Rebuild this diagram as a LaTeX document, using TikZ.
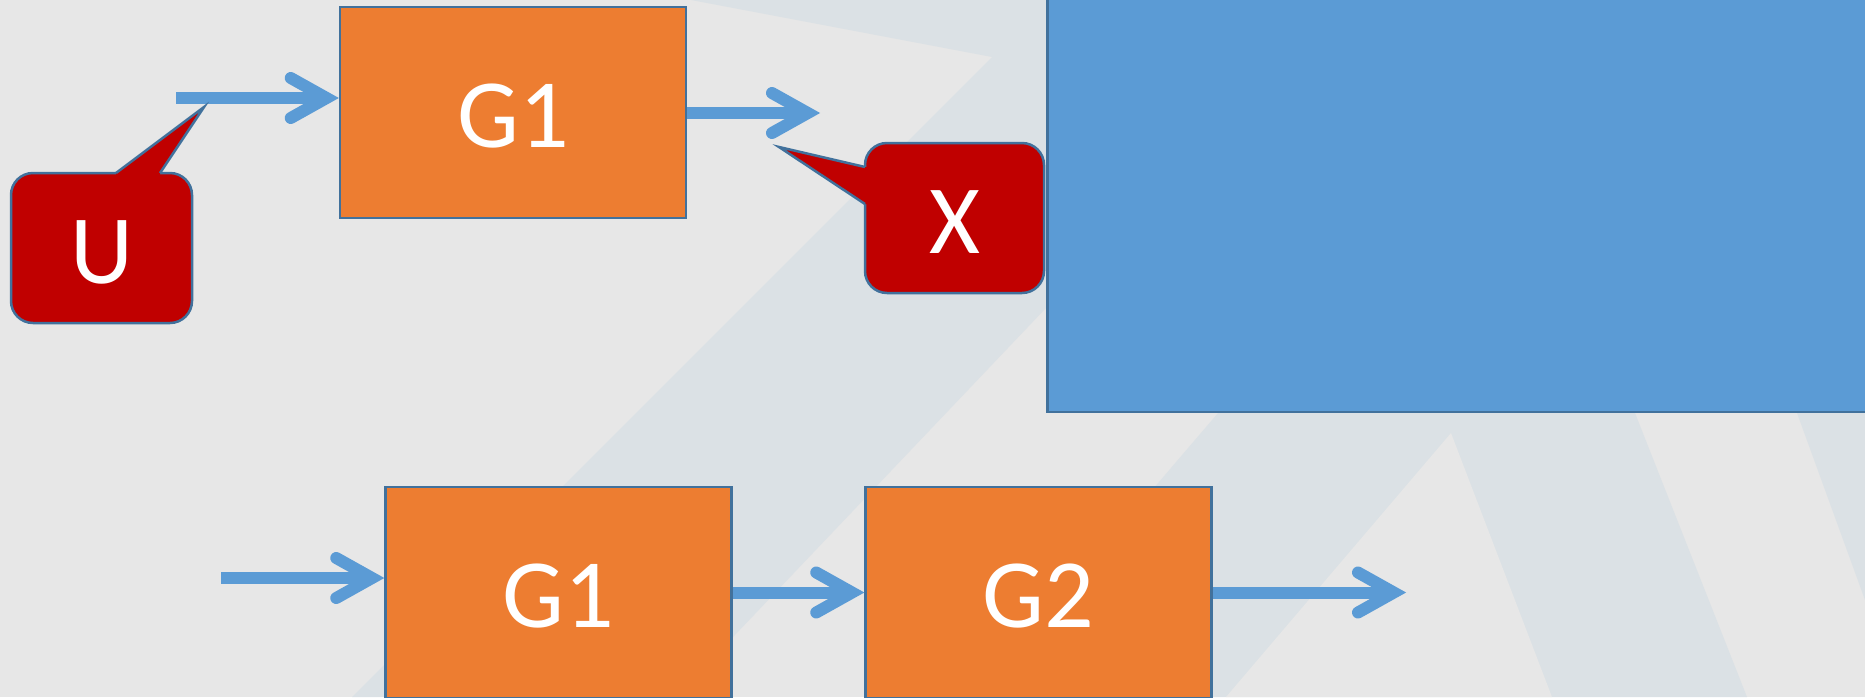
\documentclass[tikz,border=0pt]{standalone}
\usepackage{fontspec}
\setmainfont{Carlito}
\definecolor{bgbase}{HTML}{E7E7E7}
\definecolor{bgband}{HTML}{DBE1E5}
\definecolor{blockorange}{HTML}{ED7D31}
\definecolor{panelblue}{HTML}{5B9BD5}
\definecolor{edgeblue}{HTML}{41719C}
\definecolor{calloutred}{HTML}{C00000}
\definecolor{arrowblue}{HTML}{5B9BD5}
% open chevron head: thick barbs with round ends, pointed tip
\pgfdeclarearrow{
  name = Chevron,
  parameters = {chevron},
  setup code = {
    \pgfarrowssettipend{0pt}
    \pgfarrowssetlineend{-16pt}
    \pgfarrowssetvisualbackend{-54pt}
    \pgfarrowssetbackend{-54pt}
    \pgfarrowshullpoint{0pt}{0pt}
    \pgfarrowsupperhullpoint{-54pt}{26pt}
  },
  drawing code = {
    \pgfsetlinewidth{12pt}
    \pgfsetroundcap
    \pgfsetmiterjoin
    \pgfpathmoveto{\pgfqpoint{-48pt}{20pt}}
    \pgfpathlineto{\pgfqpoint{-12.2pt}{0pt}}
    \pgfpathlineto{\pgfqpoint{-48pt}{-20pt}}
    \pgfusepathqstroke
  }
}
\begin{document}
\begin{tikzpicture}[x=1pt,y=-1pt,
  label font/.style={text=white, font=\fontsize{98}{100}\selectfont,
    text height=70pt, text depth=0pt},
  block/.style={draw=edgeblue, line width=2.5pt, fill=blockorange,
    minimum width=346pt, minimum height=211pt, inner sep=0pt, label font},
  bubble/.style={draw=edgeblue, line width=2.5pt, fill=calloutred,
    rounded corners=22pt, inner sep=0pt, label font},
  tailedge/.style={draw=edgeblue, line width=2.5pt, line join=miter},
  flow/.style={draw=arrowblue, line width=12pt, arrows={-Chevron}},
]
% canvas
\clip (0,0) rectangle (1865,697);
\fill[bgbase] (0,0) rectangle (1865,697);
% faint background bands
\fill[bgband] (691,0) -- (992,57) -- (352,697) -- (676,697) -- (1339,0) -- cycle;
\fill[bgband] (1218,413) -- (1635,413) -- (1747,697) -- (975,697) -- cycle;
\fill[bgbase] (1451,433) -- (1552,697) -- (1226,697) -- cycle;
\fill[bgband] (1797,413) -- (1865,413) -- (1865,600) -- cycle;

% upper chain
\node[block] (g1a) at (513,112.5) {G1};
\coordinate (in1) at (176,98);
\coordinate (xin) at (820,113);
\draw[flow] (in1) -- (in1 -| g1a.west);
\draw[flow] (g1a.east |- xin) -- (xin);

% callout U
\node[bubble, minimum width=181pt, minimum height=150pt] (u) at (101.5,248) {U};
\coordinate (utip) at (204,107);
\fill[calloutred] (116,175.5) -- (116,173) -- (utip) -- (160,173) -- (160,175.5) -- cycle;
\draw[tailedge] (116,173) -- (utip) -- (160,173);

% callout X
\node[bubble, minimum width=179pt, minimum height=150pt] (x) at (954.5,218) {X};
\coordinate (xtip) at (779,147);
\fill[calloutred] (867.5,167) -- (865,167) -- (xtip) -- (865,204) -- (867.5,204) -- cycle;
\draw[tailedge] (865,167) -- (xtip) -- (865,204);

% blue panel
\node[draw=edgeblue, line width=2.5pt, fill=panelblue, minimum width=900pt,
  minimum height=500pt, inner sep=0pt, anchor=south west] (panel) at (1046,413) {};

% lower chain
\node[block] (g1b) at (558.5,592.5) {G1};
\node[block] (g2) at (1038.5,592.5) {G2};
\coordinate (in2) at (221,578);
\coordinate (out) at (1406,592.5);
\draw[flow] (in2) -- (in2 -| g1b.west);
\draw[flow] (g1b.east) -- (g2.west);
\draw[flow] (g2.east) -- (out);
\end{tikzpicture}
\end{document}
